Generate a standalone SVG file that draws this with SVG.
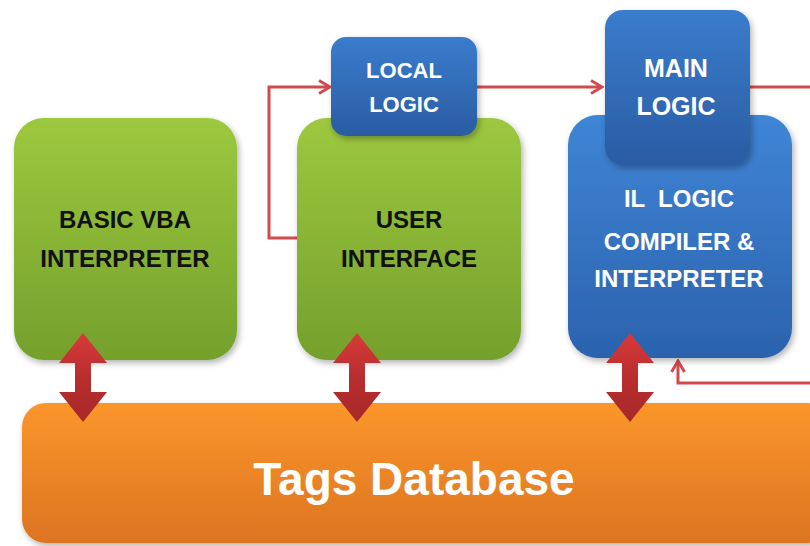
<svg xmlns="http://www.w3.org/2000/svg" width="810" height="546" viewBox="0 0 810 546">
<defs>
<linearGradient id="gGreen" x1="0" y1="0" x2="0" y2="1"><stop offset="0" stop-color="#9dc83f"/><stop offset="1" stop-color="#74a02c"/></linearGradient>
<linearGradient id="gBlue" x1="0" y1="0" x2="0" y2="1"><stop offset="0" stop-color="#3f85d6"/><stop offset="1" stop-color="#2b62ad"/></linearGradient>
<linearGradient id="gBlueD" x1="0" y1="0" x2="0" y2="1"><stop offset="0" stop-color="#3a7ccc"/><stop offset="1" stop-color="#2a5ca3"/></linearGradient>
<linearGradient id="gOrange" x1="0" y1="0" x2="0" y2="1"><stop offset="0" stop-color="#fb962c"/><stop offset="1" stop-color="#dc7420"/></linearGradient>
<linearGradient id="gRed" x1="0" y1="0" x2="0" y2="1"><stop offset="0" stop-color="#d83a3a"/><stop offset="0.5" stop-color="#b82e2e"/><stop offset="1" stop-color="#a82828"/></linearGradient>
<filter id="sh" x="-10%" y="-10%" width="125%" height="125%"><feDropShadow dx="2" dy="3" stdDeviation="3" flood-color="#000" flood-opacity="0.3"/></filter>
<marker id="chev" viewBox="0 0 16 16" refX="14" refY="8" markerWidth="16" markerHeight="16" markerUnits="userSpaceOnUse" orient="auto"><polyline points="3,1.5 14,8 3,14.5" fill="none" stroke="#d24b4b" stroke-width="3"/></marker>
<style>
.line{fill:none;stroke:#d24b4b;stroke-width:3}
.dk{font-family:"Liberation Sans",Arial,sans-serif;font-weight:bold;font-size:24px;fill:#111;text-anchor:middle}
.wt{font-family:"Liberation Sans",Arial,sans-serif;font-weight:bold;fill:#fff;text-anchor:middle}
.dbl{fill:url(#gRed)}
</style>
</defs>
<rect width="810" height="546" fill="#fff"/>
<g id="connectors">
<polyline class="line" points="297,238 269,238 269,87 330,87" marker-end="url(#chev)"/>
<polyline class="line" points="477,87 602,87" marker-end="url(#chev)"/>
<polyline class="line" points="750,87 812,87"/>
<polyline class="line" points="812,383 678,383 678,361" marker-end="url(#chev)"/>
</g>
<g id="tags-database">
<rect x="22" y="403" width="810" height="140" rx="24" fill="url(#gOrange)" filter="url(#sh)"/>
<text class="wt" x="414" y="495" font-size="46">Tags Database</text>
</g>
<g id="basic-vba">
<rect x="14" y="118" width="223" height="242" rx="30" fill="url(#gGreen)" filter="url(#sh)"/>
<text class="dk" x="125" y="228">BASIC VBA</text>
<text class="dk" x="125" y="267">INTERPRETER</text>
</g>
<g id="user-interface">
<rect x="297" y="118" width="224" height="242" rx="30" fill="url(#gGreen)" filter="url(#sh)"/>
<text class="dk" x="409" y="228">USER</text>
<text class="dk" x="409" y="267">INTERFACE</text>
</g>
<g id="local-logic">
<rect x="331" y="37" width="146" height="99" rx="15" fill="url(#gBlueD)" filter="url(#sh)"/>
<text class="wt" x="404" y="78" font-size="22">LOCAL</text>
<text class="wt" x="404" y="112" font-size="22">LOGIC</text>
</g>
<g id="il-logic">
<rect x="568" y="115" width="224" height="243" rx="30" fill="url(#gBlue)" filter="url(#sh)"/>
<text class="wt" x="679" y="207" font-size="24" xml:space="preserve">IL  LOGIC</text>
<text class="wt" x="679" y="250" font-size="24">COMPILER &amp;</text>
<text class="wt" x="679" y="287" font-size="24">INTERPRETER</text>
</g>
<g id="main-logic">
<rect x="605" y="10" width="145" height="155" rx="18" fill="url(#gBlueD)" filter="url(#sh)"/>
<text class="wt" x="676" y="77" font-size="25">MAIN</text>
<text class="wt" x="676" y="115" font-size="25">LOGIC</text>
</g>
<g id="db-arrows">
<polygon class="dbl" points="83,333 107,363 91,363 91,392 107,392 83,422 59,392 75,392 75,363 59,363"/>
<polygon class="dbl" points="357,333 381,363 365,363 365,392 381,392 357,422 333,392 349,392 349,363 333,363"/>
<polygon class="dbl" points="630,333 654,363 638,363 638,392 654,392 630,422 606,392 622,392 622,363 606,363"/>
</g>
</svg>
